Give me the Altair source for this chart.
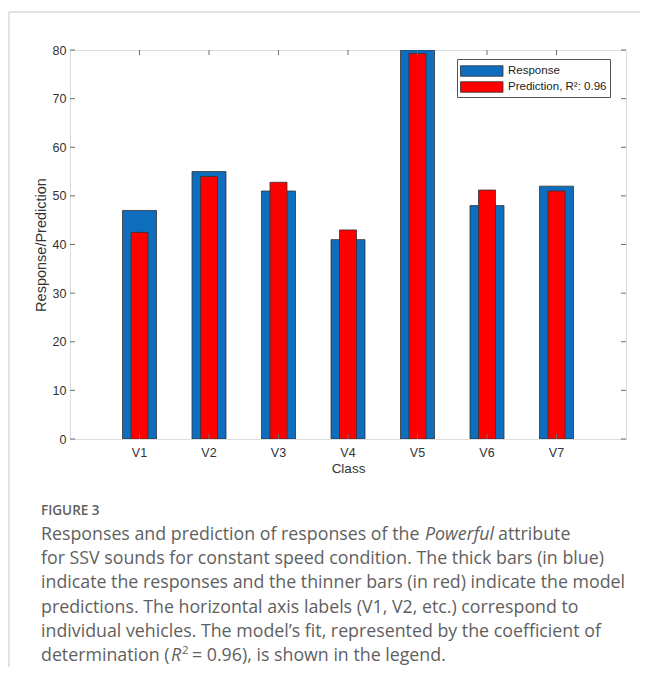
import altair as alt
import pandas as pd

CLASSES = ["V1", "V2", "V3", "V4", "V5", "V6", "V7"]
RESPONSE = [47, 55, 51, 41, 80, 48, 52]
PREDICTION = [42.5, 54, 52.8, 43, 79.3, 51.2, 51]
Y_TICKS = [0, 10, 20, 30, 40, 50, 60, 70, 80]
SERIES = ["Response", "Prediction, R²: 0.96"]
COLORS = ["#0f6dbd", "#ff0000"]

W, H = 556, 389
FRAME = "#6e6e6e"
AX_FONT = "Liberation Sans"

rows = []
for c, r, p in zip(CLASSES, RESPONSE, PREDICTION):
    rows.append({"cls": c, "series": SERIES[0], "value": r})
    rows.append({"cls": c, "series": SERIES[1], "value": p})
long = pd.DataFrame(rows)
ticks_df = pd.DataFrame({"t": Y_TICKS})
one = pd.DataFrame({"a": [0]})

x_enc = alt.X(
    "cls:N", sort=CLASSES,
    scale=alt.Scale(paddingInner=0, paddingOuter=0.5),
    axis=alt.Axis(title="Class", ticks=False, domain=False, labelAngle=0,
                  labelPadding=7, labelFont=AX_FONT, labelFontSize=12.5,
                  labelColor="#333", titleFont=AX_FONT, titleFontSize=13.5,
                  titleFontWeight="normal", titleColor="#333", titlePadding=3),
)
y_scale = alt.Scale(domain=[0, 80], nice=False)
y_enc = alt.Y(
    "value:Q", scale=y_scale,
    axis=alt.Axis(title="Response/Prediction", values=Y_TICKS, ticks=False, domain=False,
                  grid=False, labelPadding=4, labelFont=AX_FONT, labelFontSize=12.5,
                  labelColor="#333", titleFont=AX_FONT, titleFontSize=14.5,
                  titleFontWeight="normal", titleColor="#333", titlePadding=4),
)
legend = alt.Legend(
    title=None, orient="none", legendX=387, legendY=9,
    symbolType="M-1,-0.62H4V0.62H-1Z", symbolSize=289,
    symbolStrokeColor="#333", symbolStrokeWidth=0.8, symbolOpacity=1,
    labelFont=AX_FONT, labelFontSize=11.5, labelColor="#222", labelOffset=30,
    strokeColor="#555", fillColor="white", padding=3, rowPadding=0,
)
color_enc = alt.Color("series:N", scale=alt.Scale(domain=SERIES, range=COLORS), legend=legend)

base = alt.Chart(long)
blue = base.transform_filter(alt.datum.series == SERIES[0]).mark_bar(
    size=34, stroke="#333", strokeWidth=0.8, clip=True
).encode(x=x_enc, y=y_enc, color=color_enc)
red = base.transform_filter(alt.datum.series == SERIES[1]).mark_bar(
    size=17, stroke="#333", strokeWidth=0.8, clip=True
).encode(x=x_enc, y=y_enc, color=color_enc)

# inward ticks (MATLAB style box)
cls_df = pd.DataFrame({"cls": CLASSES})
tick_style = dict(color=FRAME, strokeWidth=1)
xt_bottom = alt.Chart(cls_df).mark_rule(**tick_style).encode(
    x=alt.X("cls:N", sort=CLASSES), y=alt.value(H - 5), y2=alt.value(H))
xt_top = alt.Chart(cls_df).mark_rule(**tick_style).encode(
    x=alt.X("cls:N", sort=CLASSES), y=alt.value(0), y2=alt.value(5))
yt_left = alt.Chart(ticks_df).mark_rule(**tick_style).encode(
    y=alt.Y("t:Q", scale=y_scale), x=alt.value(0), x2=alt.value(5))
yt_right = alt.Chart(ticks_df).mark_rule(**tick_style).encode(
    y=alt.Y("t:Q", scale=y_scale), x=alt.value(W - 5), x2=alt.value(W))

# card border
border_top = alt.Chart(one).mark_rule(color="#c8c8c8", strokeWidth=1).encode(
    x=alt.value(-61), x2=alt.value(W + 20), y=alt.value(-38))
border_left = alt.Chart(one).mark_rule(color="#c8c8c8", strokeWidth=1).encode(
    x=alt.value(-61), y=alt.value(-38), y2=alt.value(640))

# caption
CAP_COLOR = "#5f5f5f"
CAP_FONT = "Open Sans"
CAP_SIZE = 17.8
LINES = [
    "Responses and prediction of responses of the",
    "for SSV sounds for constant speed condition. The thick bars (in blue)",
    "indicate the responses and the thinner bars (in red) indicate the model",
    "predictions. The horizontal axis labels (V1, V2, etc.) correspond to",
    "individual vehicles. The model’s fit, represented by the coefficient of",
    "determination  (",
]
X0 = -29
BASE0 = 490
STEP = 24.2


def txt(s, x, y, size=CAP_SIZE, style="normal", weight="normal"):
    return alt.Chart(one).mark_text(
        align="left", baseline="alphabetic", font=CAP_FONT, fontSize=size,
        fontStyle=style, fontWeight=weight, color=CAP_COLOR
    ).encode(x=alt.value(x), y=alt.value(y), text=alt.value(s))


caps = [txt("FIGURE 3", X0, 465, size=13.5, weight=600)]
for i, s in enumerate(LINES):
    caps.append(txt(s, X0, BASE0 + STEP * i))
caps.append(txt("Powerful", 355, BASE0, style="italic"))
caps.append(txt("attribute", 428, BASE0))
y6 = BASE0 + STEP * 5
caps.append(txt("R", 101, y6, style="italic"))
caps.append(txt("2", 112, y6 - 7.5, size=11.5))
caps.append(txt("= 0.96), is shown in the legend.", 122, y6))

chart = alt.layer(
    border_top, border_left, blue, red, xt_bottom, xt_top, yt_left, yt_right, *caps
).properties(
    width=W, height=H,
    autosize=alt.AutoSizeParams(type="none"),
    padding={"left": 62, "top": 42, "right": 14, "bottom": 228},
).configure_view(stroke=FRAME, strokeWidth=1).configure(background="white")

chart.save("out.html", embed_options={"renderer": "svg", "actions": False})
